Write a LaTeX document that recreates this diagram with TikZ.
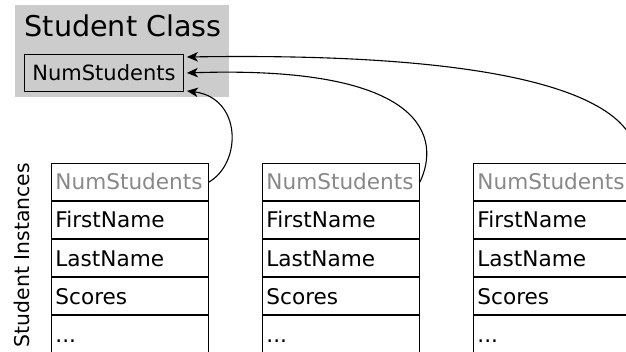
\documentclass[tikz,border=0pt]{standalone}
\usepackage{fontspec}
\setmainfont{DejaVu Sans}
\usetikzlibrary{arrows.meta}
\definecolor{classgray}{HTML}{CCCCCC}
\definecolor{fadedtext}{HTML}{888888}
\begin{document}
\begin{tikzpicture}[x=1pt,y=-1pt,
  rowbox/.style={draw=black,line width=0.9pt,minimum height=37.2pt,inner xsep=4pt,inner ysep=0pt,
    text width=149pt,align=left,text height=15.7pt,text depth=0pt,
    font=\fontsize{21.6pt}{24pt}\selectfont,anchor=north west},
  classbg/.style={fill=classgray,draw=none,minimum width=214pt,minimum height=92pt,inner sep=0pt,anchor=north west},
  fieldbox/.style={draw=black,line width=0.9pt,minimum width=159pt,minimum height=37pt,inner sep=0pt,
    text height=15.1pt,text depth=0pt,font=\fontsize{21pt}{24pt}\selectfont,anchor=north west},
  titletext/.style={anchor=base west,inner sep=0pt,font=\fontsize{28.6pt}{32pt}\selectfont},
  sidelabel/.style={rotate=90,inner sep=0pt,font=\fontsize{20.4pt}{24pt}\selectfont},
  conn/.style={line width=1.1pt,-{Stealth[length=11pt,width=9.5pt,inset=3pt]}}
]
\useasboundingbox (0,0) rectangle (626,352);
\node[classbg] (clsbg) at (15,5) {};
\node[titletext] (title) at (24.5,36.5) {Student Class};
\node[fieldbox] (cls) at (24,54) {NumStudents};
\node[sidelabel] (instlabel) at (21.5,255) {Student Instances};
\foreach \i/\x in {1/51,2/262,3/473}{
  \node[rowbox,text=fadedtext] (b\i-r1) at (\x,163) {NumStudents};
  \node[rowbox] (b\i-r2) at (b\i-r1.south west) {FirstName};
  \node[rowbox] (b\i-r3) at (b\i-r2.south west) {LastName};
  \node[rowbox] (b\i-r4) at (b\i-r3.south west) {Scores};
  \node[rowbox] (b\i-r5) at (b\i-r4.south west) {...};
}
\draw[conn] (b1-r1.east) .. controls (242,163) and (242,98) .. ([shift={(3,-1)}]cls.south east);
\draw[conn] (b2-r1.east) .. controls (440,140) and (430,65) .. ([shift={(3,0)}]cls.east);
\draw[conn] (b3-r1.east) .. controls (651,140) and (641,50) .. ([shift={(3,3)}]cls.north east);
\end{tikzpicture}
\end{document}
